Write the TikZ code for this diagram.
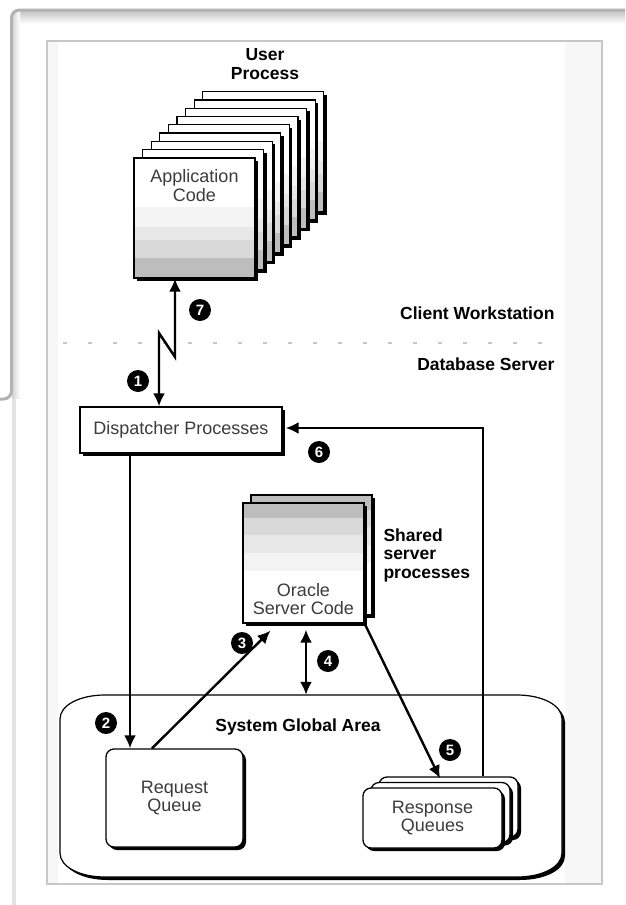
\documentclass[tikz,border=0pt]{standalone}
\usepackage{fontspec}
\setsansfont{Liberation Sans}
\usetikzlibrary{positioning,shadows,arrows.meta}
\definecolor{bandA}{HTML}{BDBDBD}
\definecolor{bandB}{HTML}{D9D9D9}
\definecolor{bandC}{HTML}{E7E7E7}
\definecolor{bandD}{HTML}{F3F3F3}
\definecolor{boxtxt}{HTML}{3C3C3C}
\newcommand{\sgapath}{(60,719) -- (60,853) .. controls (60,867) and (80,877) .. (105,877) -- (517,877) .. controls (542,877) and (562,867) .. (562,853) -- (562,719) .. controls (562,705) and (542,695) .. (517,695) -- (105,695) .. controls (80,695) and (60,705) .. (60,719) -- cycle}

\begin{document}
\begin{tikzpicture}[x=1pt,y=-1pt,
  font=\sffamily\fontsize{18}{18.5}\selectfont,
  >={Latex[length=13pt,width=12pt]},
  shadowed/.style={drop shadow={shadow xshift=3pt,shadow yshift=-3pt,fill=black,opacity=1}},
  page/.style={draw,line width=1.3pt,fill=white,minimum width=121pt,minimum height=120pt,shadowed},
  apppage/.style={page,path picture={
    \coordinate (sw) at (path picture bounding box.south west);
    \coordinate (ne) at (path picture bounding box.north east);
    \fill[bandA] (sw) rectangle ([yshift=20pt]sw -| ne);
    \fill[bandB] ([yshift=20pt]sw) rectangle ([yshift=38pt]sw -| ne);
    \fill[bandC] ([yshift=38pt]sw) rectangle ([yshift=51pt]sw -| ne);
    \fill[bandD] ([yshift=51pt]sw) rectangle ([yshift=71pt]sw -| ne);}},
  srvpage/.style={page,path picture={
    \coordinate (sw) at (path picture bounding box.south west);
    \coordinate (ne) at (path picture bounding box.north east);
    \fill[bandA] (ne) rectangle ([yshift=-15pt]ne -| sw);
    \fill[bandB] ([yshift=-15pt]ne) rectangle ([yshift=-32pt]ne -| sw);
    \fill[bandC] ([yshift=-32pt]ne) rectangle ([yshift=-50pt]ne -| sw);
    \fill[bandD] ([yshift=-50pt]ne) rectangle ([yshift=-68pt]ne -| sw);}},
  plainbox/.style={draw,line width=1.3pt,fill=white,text=boxtxt,align=center,shadowed},
  queue/.style={plainbox,rounded corners=8pt},
  boxtext/.style={text=boxtxt,align=center},
  heading/.style={font=\sffamily\bfseries\fontsize{17.5}{18.5}\selectfont,align=center},
  badge/.style={circle,fill=black,text=white,inner sep=0pt,minimum size=22pt,
    font=\sffamily\bfseries\fontsize{15}{15}\selectfont},
  link/.style={line width=2.4pt,->}]

\useasboundingbox (0,0) rectangle (625,905);
\fill[white] (0,0) rectangle (625,905);
\shade[top color=gray!45,bottom color=white] (12,11) rectangle (625,24);
\shade[left color=gray!35,right color=white] (12,11) rectangle (20,398);
\draw[gray!60,line width=3pt,rounded corners=8pt] (0,399) -- (11.5,399) -- (11.5,10) -- (625,10);
\fill[gray!22] (12,399) rectangle (16,905);
\filldraw[fill=black!3,draw=black!22,line width=1.2pt] (47,41) rectangle (602,884);
\fill[white] (58,42) rectangle (565,883);

\node[heading] (user) at (265,64) {User\\Process};
\foreach \k in {8,...,1}
  \node[apppage] (app\k) at ({194.5+8.6*\k},{218-8.3*\k}) {};
\node[apppage] (app) at (194.5,218) {};
\node[boxtext,below=9pt of app.north] (applbl) {Application\\Code};

\node[heading,anchor=east] (client) at (558,313) {Client Workstation};
\node[heading,anchor=east] (server) at (558,364) {Database Server};
\draw[gray!45,line width=1.5pt,dash pattern=on 4pt off 21pt] (63,343) -- (548,343);

\node[plainbox,minimum width=202pt,minimum height=46pt] (disp) at (181,430) {Dispatcher Processes};

\node[srvpage] (oracle2) at (311.5,555) {};
\node[srvpage] (oracle) at (303.5,563) {};
\node[boxtext,above=5pt of oracle.south] (oraclelbl) {Oracle\\Server Code};
\node[heading,anchor=west,align=left] (shared) at (380,555) {Shared\\server\\processes};

\node (sga) at (311,786) [minimum width=502pt,minimum height=182pt] {};
\fill[black,xshift=3pt,yshift=-3pt] \sgapath;
\filldraw[fill=white,line width=1.2pt] \sgapath;
\node[heading] (sgalbl) at (298,727) {System Global Area};

\node[queue,minimum width=137pt,minimum height=98pt] (reqq) at (174.5,798) {Request\\Queue};
\node[queue,minimum width=139pt,minimum height=60pt] (resp3) at (448.5,807) {};
\node[queue,minimum width=139pt,minimum height=60pt] (resp2) at (440.5,812.5) {};
\node[queue,minimum width=139pt,minimum height=60pt] (resp) at (432.5,818) {Response\\Queues};

\coordinate (zigA) at (159,333);
\coordinate (zigB) at (175,357);
\draw[link,<->,line join=miter] ([xshift=-19.5pt]app.south) -- (zigB) -- (zigA) -- ([xshift=-22pt]disp.north);
\draw[link] ([xshift=-51pt]disp.south) -- ([xshift=-51pt]disp.south |- reqq.north);
\draw[link] ([xshift=-22.5pt]reqq.north) -- ([xshift=-33pt,yshift=-7pt]oracle.south);
\draw[link,<->] ([xshift=2.5pt,yshift=-6pt]oracle.south) -- ([xshift=2.5pt]oracle.south |- sga.north);
\draw[link] (oracle.south east) -- ([xshift=-8.5pt,yshift=-2pt]resp3.north);
\draw[link] ([xshift=34.5pt]resp3.north) |- ([xshift=3pt,yshift=2pt]disp.east);

\node[badge] (b1) at (138,381) {1};
\node[badge] (b2) at (106,723) {2};
\node[badge] (b3) at (242,643) {3};
\node[badge] (b4) at (328,661) {4};
\node[badge] (b5) at (450,750) {5};
\node[badge] (b6) at (319,452) {6};
\node[badge] (b7) at (200,310) {7};
\end{tikzpicture}
\end{document}
